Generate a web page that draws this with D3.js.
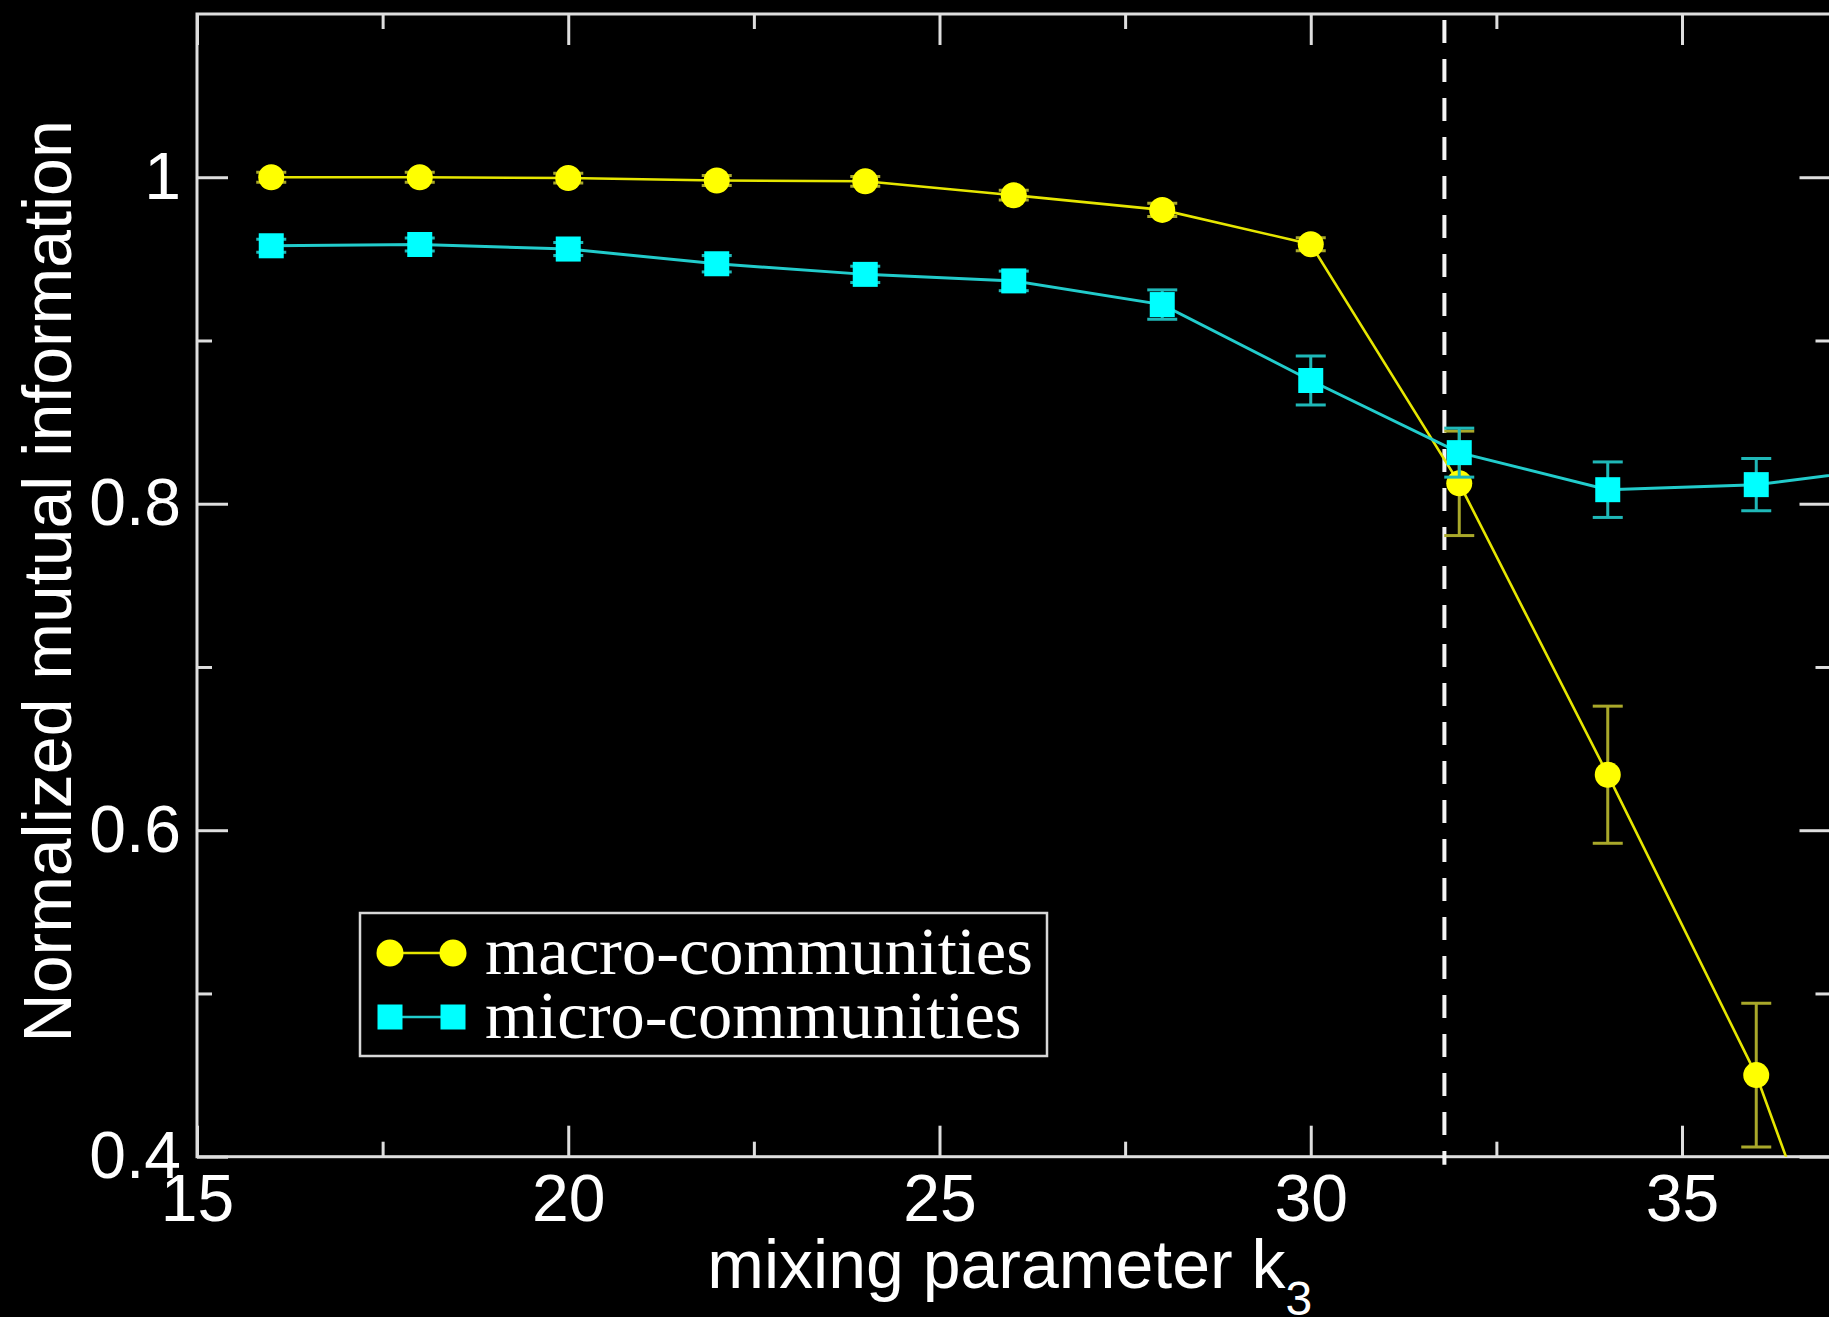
<!DOCTYPE html>
<html>
<head>
<meta charset="utf-8">
<script src="https://cdn.jsdelivr.net/npm/d3@7"></script>
<style>
  html, body { margin: 0; padding: 0; background: #000; }
  svg { display: block; }
</style>
</head>
<body>
<script>
// Mixing parameter k3 values and NMI results for the two community levels
const kValues   = [16, 18, 20, 22, 24, 26, 28, 30, 32, 34, 36, 38];
const macroNMI  = [1.000, 1.000, 0.9995, 0.998, 0.9975, 0.989, 0.980, 0.959, 0.8125, 0.634, 0.450, 0.20];
const macroErr  = [0.003, 0.003, 0.003, 0.003, 0.003, 0.003, 0.004, 0.004, 0.032, 0.042, 0.044, 0.05];
const microNMI  = [0.958, 0.9588, 0.956, 0.947, 0.9405, 0.9365, 0.922, 0.8755, 0.8313, 0.8086, 0.8117, 0.823];
const microErr  = [0.004, 0.004, 0.004, 0.005, 0.005, 0.006, 0.009, 0.015, 0.015, 0.017, 0.016, 0.016];

// Axis ticks
const xMajor = [15, 20, 25, 30, 35];
const xMinor = [17.5, 22.5, 27.5, 32.5];
const yMajor = [0.4, 0.6, 0.8, 1.0];
const yMinor = [0.5, 0.7, 0.9];
const yLabels = ["0.4", "0.6", "0.8", "1"];

// Threshold position marked by the dashed line
const kCritical = [31.8];

const seriesNames = ["macro-communities", "micro-communities"];

const W = 1829, H = 1317;
const margin = { left: 197, top: 14 };
const plotW = 1633.5, plotH = 1142.7;

const svg = d3.select("body").append("svg")
  .attr("width", W).attr("height", H)
  .style("background", "#000");

const x = d3.scaleLinear().domain([15, 37]).range([0, plotW]);
const y = d3.scaleLinear().domain([0.4, 1.1]).range([plotH, 0]);

const g = svg.append("g").attr("transform", `translate(${margin.left},${margin.top})`);

const frameColor = "#dedede";
const majorLen = 31, minorLen = 15;

svg.append("defs").append("clipPath").attr("id", "plotClip")
  .append("rect").attr("x", 0).attr("y", 0).attr("width", plotW).attr("height", plotH);

// Axes: ticks point inward on all four sides
function styleAxis(sel) {
  sel.selectAll(".domain").remove();
  sel.selectAll(".tick line").attr("stroke", frameColor).attr("stroke-width", 3);
  sel.selectAll(".tick text")
    .attr("fill", "#fff")
    .style("font-family", "'Liberation Sans', Arial, Helvetica, sans-serif")
    .style("font-size", "66px");
}

g.append("g").attr("transform", `translate(0,${plotH})`)
  .call(d3.axisBottom(x).tickValues(xMajor).tickSize(-majorLen).tickPadding(17).tickFormat(d3.format("d")))
  .call(styleAxis);
g.append("g").attr("transform", `translate(0,${plotH})`)
  .call(d3.axisBottom(x).tickValues(xMinor).tickSize(-minorLen).tickFormat(""))
  .call(styleAxis);
g.append("g")
  .call(d3.axisTop(x).tickValues(xMajor).tickSize(-majorLen).tickFormat(""))
  .call(styleAxis);
g.append("g")
  .call(d3.axisTop(x).tickValues(xMinor).tickSize(-minorLen).tickFormat(""))
  .call(styleAxis);

g.append("g")
  .call(d3.axisLeft(y).tickValues(yMajor).tickSize(-majorLen).tickPadding(16)
    .tickFormat((d, i) => yLabels[i]))
  .call(styleAxis);
g.append("g")
  .call(d3.axisLeft(y).tickValues(yMinor).tickSize(-minorLen).tickFormat(""))
  .call(styleAxis);
g.append("g").attr("transform", `translate(${plotW},0)`)
  .call(d3.axisRight(y).tickValues(yMajor).tickSize(-majorLen).tickFormat(""))
  .call(styleAxis);
g.append("g").attr("transform", `translate(${plotW},0)`)
  .call(d3.axisRight(y).tickValues(yMinor).tickSize(-minorLen).tickFormat(""))
  .call(styleAxis);

// Frame
g.append("rect")
  .attr("x", 0).attr("y", 0).attr("width", plotW).attr("height", plotH)
  .attr("fill", "none").attr("stroke", frameColor).attr("stroke-width", 3);

// Dashed threshold line
g.selectAll(".kc").data(kCritical).enter().append("line")
  .attr("x1", d => x(d)).attr("x2", d => x(d))
  .attr("y1", 6).attr("y2", plotH + 8)
  .attr("stroke", "#f4f4f4").attr("stroke-width", 4)
  .attr("stroke-dasharray", "23 16");

const data = g.append("g").attr("clip-path", "url(#plotClip)");

function drawSeries(values, errs, lineColor, errColor, lineWidth, marker, fill) {
  const pts = kValues.map((k, i) => ({ k, v: values[i], e: errs[i] }));
  const line = d3.line().x(d => x(d.k)).y(d => y(d.v));
  data.append("path").datum(pts)
    .attr("d", line).attr("fill", "none")
    .attr("stroke", lineColor).attr("stroke-width", lineWidth);

  const cap = 15;
  const eb = data.append("g").attr("stroke", errColor).attr("stroke-width", 3).attr("fill", "none");
  pts.forEach(p => {
    eb.append("line").attr("x1", x(p.k)).attr("x2", x(p.k))
      .attr("y1", y(p.v + p.e)).attr("y2", y(p.v - p.e));
    eb.append("line").attr("x1", x(p.k) - cap).attr("x2", x(p.k) + cap)
      .attr("y1", y(p.v + p.e)).attr("y2", y(p.v + p.e));
    eb.append("line").attr("x1", x(p.k) - cap).attr("x2", x(p.k) + cap)
      .attr("y1", y(p.v - p.e)).attr("y2", y(p.v - p.e));
  });

  const sym = d3.symbol().type(marker === "circle" ? d3.symbolCircle : d3.symbolSquare)
    .size(marker === "circle" ? Math.PI * 13 * 13 : 25 * 25);
  data.append("g").selectAll("path").data(pts).enter().append("path")
    .attr("transform", d => `translate(${x(d.k)},${y(d.v)})`)
    .attr("d", sym).attr("fill", fill);
}

drawSeries(macroNMI, macroErr, "#e6e600", "#a9a82a", 2.6, "circle", "#ffff00");
drawSeries(microNMI, microErr, "#22cccc", "#1fb8b8", 3, "square", "#00ffff");

// Axis titles
svg.append("text")
  .attr("x", margin.left + plotW / 2 - 4).attr("y", 1288)
  .attr("text-anchor", "middle").attr("fill", "#fff")
  .style("font-family", "'Liberation Sans', Arial, Helvetica, sans-serif")
  .style("font-size", "68px")
  .text("mixing parameter k")
  .append("tspan").attr("dy", 27).style("font-size", "48px").text("3");

svg.append("text")
  .attr("transform", `translate(71,${margin.top + plotH / 2 - 4}) rotate(-90)`)
  .attr("text-anchor", "middle").attr("fill", "#fff")
  .style("font-family", "'Liberation Sans', Arial, Helvetica, sans-serif")
  .style("font-size", "68px")
  .text("Normalized mutual information");

// Legend
const legend = svg.append("g");
legend.append("rect")
  .attr("x", 360).attr("y", 913).attr("width", 687).attr("height", 143)
  .attr("fill", "#000").attr("stroke", "#d8d8d8").attr("stroke-width", 2.5);

const legendRows = [
  { name: seriesNames[0], y: 953, line: "#e6e600", fill: "#ffff00", marker: "circle" },
  { name: seriesNames[1], y: 1017, line: "#22cccc", fill: "#00ffff", marker: "square" }
];
legendRows.forEach(r => {
  legend.append("line").attr("x1", 390).attr("x2", 453).attr("y1", r.y).attr("y2", r.y)
    .attr("stroke", r.line).attr("stroke-width", 2.6);
  const sym = d3.symbol().type(r.marker === "circle" ? d3.symbolCircle : d3.symbolSquare)
    .size(r.marker === "circle" ? Math.PI * 13.5 * 13.5 : 25 * 25);
  [390, 453].forEach(cx => {
    legend.append("path").attr("transform", `translate(${cx},${r.y})`)
      .attr("d", sym).attr("fill", r.fill);
  });
  legend.append("text").attr("x", 485).attr("y", r.y + 21)
    .attr("fill", "#fff")
    .style("font-family", "'Liberation Serif', 'Times New Roman', serif")
    .style("font-size", "68.5px")
    .text(r.name);
});
</script>
</body>
</html>
